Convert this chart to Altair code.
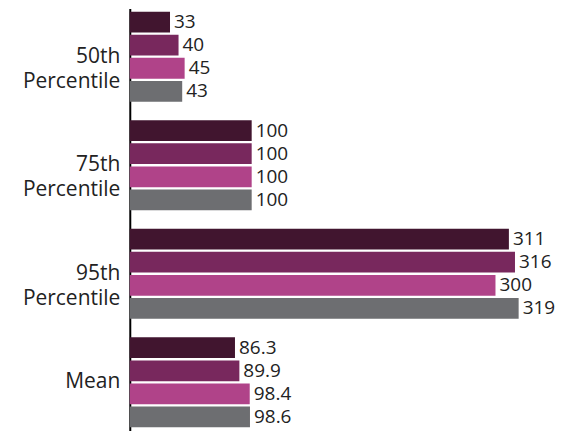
import altair as alt
import pandas as pd

categories = ["50th Percentile", "75th Percentile", "95th Percentile", "Mean"]
series = ["Series 1", "Series 2", "Series 3", "Series 4"]
values = [
    [33, 40, 45, 43],
    [100, 100, 100, 100],
    [311, 316, 300, 319],
    [86.3, 89.9, 98.4, 98.6],
]
labels = [
    ["33", "40", "45", "43"],
    ["100", "100", "100", "100"],
    ["311", "316", "300", "319"],
    ["86.3", "89.9", "98.4", "98.6"],
]
colors = ["#41152f", "#78285d", "#b04389", "#6d6e71"]

rows = []
for ci, c in enumerate(categories):
    for si, s in enumerate(series):
        rows.append({"category": c, "series": s, "value": values[ci][si], "label": labels[ci][si]})
df = pd.DataFrame(rows)

FONT = "Open Sans"

y = alt.Y("category:N", sort=categories,
          scale=alt.Scale(paddingInner=0.17, paddingOuter=0.03),
          axis=alt.Axis(title=None, ticks=False, domainColor="black", domainWidth=2,
                        labelFont=FONT, labelFontSize=21, labelColor="#222",
                        labelPadding=10, labelLineHeight=25, labelLimit=200,
                        labelExpr="datum.value == 'Mean' ? 'Mean' : split(datum.value, ' ')"))
yoff = alt.YOffset("series:N", sort=series, scale=alt.Scale(paddingInner=0.1))
x = alt.X("value:Q", scale=alt.Scale(domain=[0, 330]), axis=None)
color = alt.Color("series:N", sort=series, scale=alt.Scale(domain=series, range=colors), legend=None)

base = alt.Chart(df)
bars = base.mark_bar().encode(y=y, yOffset=yoff, x=x, color=color)
text = base.mark_text(align="left", baseline="middle", dx=4, font=FONT, fontSize=19, color="#222").encode(
    y=y, yOffset=yoff, x=x, text="label:N")

chart = (bars + text).properties(
    width=403, height=423, background="white",
    padding={"left": 14, "top": 0, "right": 5, "bottom": 5},
).configure_view(stroke="transparent", strokeWidth=0)
chart.save("out.html", embed_options={"renderer": "svg", "actions": False})
